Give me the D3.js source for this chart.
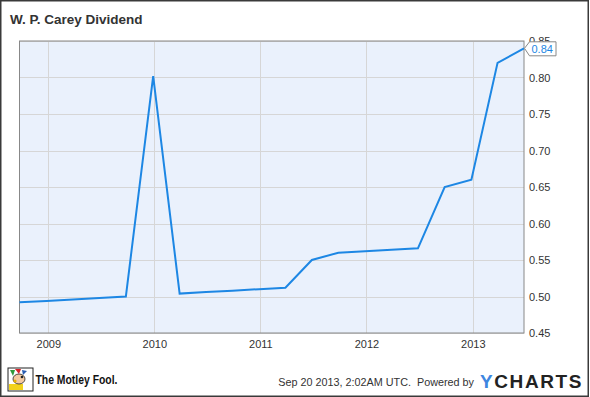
<!DOCTYPE html>
<html>
<head>
<meta charset="utf-8">
<script src="https://cdn.jsdelivr.net/npm/d3@7"></script>
<style>
  body { margin: 0; background: #fff; }
  text { font-family: "Liberation Sans", Arial, sans-serif; }
</style>
</head>
<body>
<div id="chart"></div>
<script>
const dates = ["2008-09-24", "2008-12-26", "2009-03-27", "2009-06-26", "2009-09-25",
               "2009-12-28", "2010-03-29", "2010-06-28", "2010-09-27", "2010-12-27",
               "2011-03-28", "2011-06-27", "2011-09-26", "2011-12-27", "2012-03-27",
               "2012-06-26", "2012-09-26", "2012-12-27", "2013-03-27", "2013-06-26"];
const dividend = [0.492, 0.494, 0.496, 0.498, 0.500,
                  0.802, 0.504, 0.506, 0.508, 0.510,
                  0.512, 0.550, 0.560, 0.562, 0.564,
                  0.566, 0.650, 0.660, 0.820, 0.840];
const yTicks = [0.45, 0.50, 0.55, 0.60, 0.65, 0.70, 0.75, 0.80, 0.85];
const title = "W. P. Carey Dividend";

const width = 590, height = 397;
const margin = {top: 41, right: 66, bottom: 64, left: 19.5};
const parse = d3.timeParse("%Y-%m-%d");
const data = dates.map((d, i) => ({date: parse(d), value: dividend[i]}));

const svg = d3.select("#chart").append("svg")
    .attr("width", width)
    .attr("height", height);

// outer frame
svg.append("rect")
    .attr("x", 0.75).attr("y", 0.75)
    .attr("width", 587.5).attr("height", 395.5)
    .attr("fill", "#fff")
    .attr("stroke", "#3a3a3a")
    .attr("stroke-width", 1.5);

svg.append("text")
    .attr("x", 10).attr("y", 24)
    .attr("font-size", 13.5).attr("font-weight", "bold")
    .attr("fill", "#333")
    .text(title);

const x = d3.scaleTime()
    .domain(d3.extent(data, d => d.date))
    .range([margin.left, width - margin.right]);
const y = d3.scaleLinear()
    .domain([0.45, 0.85])
    .range([height - margin.bottom, margin.top]);

const g = svg.append("g");

g.append("rect")
    .attr("x", margin.left).attr("y", margin.top)
    .attr("width", x.range()[1] - x.range()[0])
    .attr("height", y.range()[0] - y.range()[1])
    .attr("fill", "#eaf1fc");

const years = x.ticks(d3.timeYear.every(1));

// gridlines
g.selectAll(".vgrid").data(years).enter().append("line")
    .attr("x1", d => Math.round(x(d)) + 0.5).attr("x2", d => Math.round(x(d)) + 0.5)
    .attr("y1", y.range()[1]).attr("y2", y.range()[0])
    .attr("stroke", "#d6d6d6");
g.selectAll(".hgrid").data(yTicks).enter().append("line")
    .attr("x1", x.range()[0]).attr("x2", x.range()[1])
    .attr("y1", d => Math.round(y(d)) + 0.5).attr("y2", d => Math.round(y(d)) + 0.5)
    .attr("stroke", "#d6d6d6");

g.append("rect")
    .attr("x", margin.left).attr("y", margin.top)
    .attr("width", x.range()[1] - x.range()[0])
    .attr("height", y.range()[0] - y.range()[1])
    .attr("fill", "none")
    .attr("stroke", "#888");

// axes labels
const xAxis = g.append("g")
    .attr("transform", `translate(0,${y.range()[0]})`)
    .call(d3.axisBottom(x).tickValues(years).tickFormat(d3.timeFormat("%Y")).tickSize(0).tickPadding(7));
xAxis.select(".domain").remove();
xAxis.selectAll("text").attr("font-size", 11).attr("fill", "#333")
    .attr("font-family", "Liberation Sans, Arial, sans-serif");

const yAxis = g.append("g")
    .attr("transform", `translate(${x.range()[1]},0)`)
    .call(d3.axisRight(y).tickValues(yTicks).tickFormat(d3.format(".2f")).tickSize(0).tickPadding(5));
yAxis.select(".domain").remove();
yAxis.selectAll("text").attr("font-size", 11).attr("fill", "#333")
    .attr("font-family", "Liberation Sans, Arial, sans-serif");

const line = d3.line().x(d => x(d.date)).y(d => y(d.value));
g.append("path")
    .datum(data)
    .attr("d", line)
    .attr("fill", "none")
    .attr("stroke", "#1d87e4")
    .attr("stroke-width", 2)
    .attr("stroke-linejoin", "miter");

// last value flag (sits over the top tick label, as in the original)
const last = data[data.length - 1];
const lx = x(last.date), ly = y(last.value);
g.append("path")
    .attr("d", `M${lx + 0.5},${ly} L${lx + 5.5},${ly - 6.5} L${lx + 32},${ly - 6.5} L${lx + 32},${ly + 7.5} L${lx + 5.5},${ly + 7.5} Z`)
    .attr("fill", "#fff")
    .attr("stroke", "#888");
g.append("text")
    .attr("x", lx + 7.5).attr("y", ly + 4.5)
    .attr("font-size", 11).attr("fill", "#1d87e4")
    .text(d3.format(".2f")(last.value));

// footer
const logo = svg.append("g").attr("transform", "translate(8,368)");
logo.append("rect").attr("width", 25).attr("height", 23).attr("fill", "#fff").attr("stroke", "#222");
logo.append("rect").attr("x", 1).attr("y", 16).attr("width", 14).attr("height", 6).attr("fill", "#f2d21b");
logo.append("path").attr("d", "M2,2 L7,2 L5,8 Z").attr("fill", "#2e9a3a");
logo.append("path").attr("d", "M7,1 L13,1 L11,6 Z").attr("fill", "#d8232a");
logo.append("path").attr("d", "M14,2 L19,3 L15,7 Z").attr("fill", "#2a5db0");
logo.append("ellipse").attr("cx", 11).attr("cy", 11).attr("rx", 6).attr("ry", 5).attr("fill", "#f4c9a0").attr("stroke", "#222").attr("stroke-width", 0.8);
logo.append("circle").attr("cx", 7).attr("cy", 13).attr("r", 1.6).attr("fill", "#e8b400");
logo.append("circle").attr("cx", 14).attr("cy", 9).attr("r", 1.3).attr("fill", "#222");

svg.append("text")
    .attr("x", 35.5).attr("y", 384)
    .attr("font-size", 13).attr("font-weight", "bold")
    .attr("textLength", 82).attr("lengthAdjust", "spacingAndGlyphs")
    .attr("fill", "#111")
    .text("The Motley Fool.");

svg.append("text")
    .attr("x", 474).attr("y", 386)
    .attr("text-anchor", "end")
    .attr("font-size", 10.8).attr("fill", "#333")
    .attr("xml:space", "preserve")
    .text("Sep 20 2013, 2:02AM UTC.  Powered by");

const yc = svg.append("text")
    .attr("x", 480).attr("y", 388)
    .attr("font-size", 19).attr("font-weight", "bold")
    .attr("letter-spacing", 1.6);
yc.append("tspan").attr("fill", "#3d86e0").text("Y");
yc.append("tspan").attr("fill", "#222").text("CHARTS");
</script>
</body>
</html>
